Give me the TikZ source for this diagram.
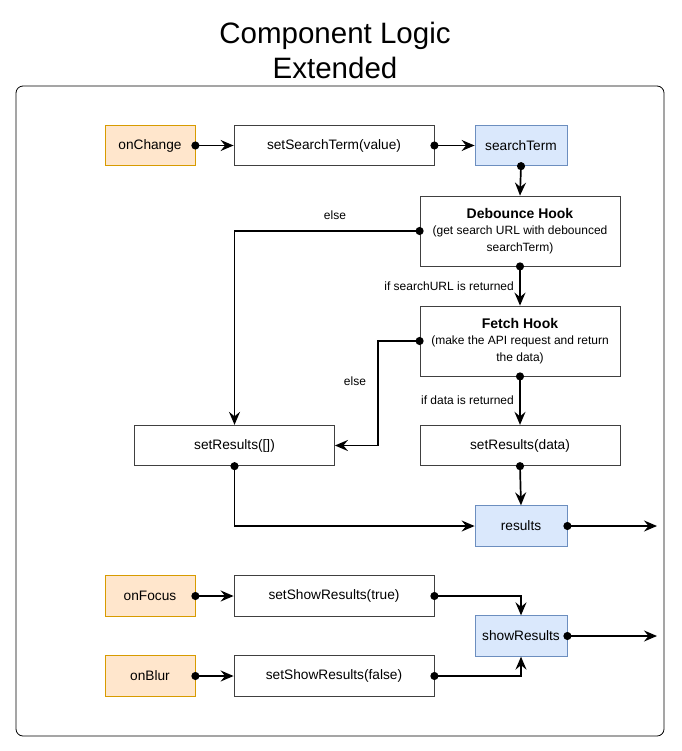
\documentclass[tikz,border=0pt]{standalone}
\usepackage{fontspec}
\setmainfont{Liberation Sans}
\usetikzlibrary{arrows.meta}
\definecolor{orfill}{HTML}{FFE6CC}
\definecolor{ordraw}{HTML}{D79B00}
\definecolor{blfill}{HTML}{DAE8FC}
\definecolor{bldraw}{HTML}{6C8EBF}
\begin{document}
\begin{tikzpicture}[x=1pt,y=-1pt,
  box/.style={draw=black!75, line width=0.8pt, fill=white, minimum width=200, minimum height=40.5, inner sep=0pt, font=\fontsize{13.7}{16}\selectfont, align=center},
  evt/.style={box, draw=ordraw, fill=orfill, minimum width=90},
  state/.style={box, draw=bldraw, fill=blfill, minimum width=92},
  hook/.style={box, minimum height=70, font=\fontsize{12}{16.5}\selectfont},
  lbl/.style={font=\fontsize{12}{14}\selectfont, inner sep=0pt},
  conn/.style={line width=1.7pt, shorten <=-4pt, {Circle[length=8pt]}-{Stealth[length=13pt,width=11pt,inset=4.5pt]}}
]
\useasboundingbox (0,0) rectangle (681,751);
% title
\node[font=\fontsize{29.5}{35}\selectfont, align=center] (title) at (335,50) {Component Logic\\Extended};
% container
\node[draw=black, line width=0.8pt, rounded corners=7pt, minimum width=648, minimum height=650, inner sep=0pt] (frame) at (340,411) {};
% nodes
\node[evt] (onchange) at (150,145.5) {onChange};
\node[box] (sst) at (334,145.5) {setSearchTerm(value)};
\node[state] (st) at (521,145.5) {searchTerm};
\node[hook] (deb) at (520,231) {{\fontsize{14}{16}\selectfont\bfseries Debounce Hook}\\(get search URL with debounced\\searchTerm)};
\node[hook] (fetch) at (520,341) {{\fontsize{14}{16}\selectfont\bfseries Fetch Hook}\\(make the API request and return\\the data)};
\node[box] (srempty) at (234.5,445.5) {setResults([])};
\node[box] (srdata) at (520,445.5) {setResults(data)};
\node[state] (res) at (521,526) {results};
\node[evt] (onfocus) at (150,596) {onFocus};
\node[box] (sstrue) at (334,596) {setShowResults(true)};
\node[state] (sr) at (521,636) {showResults};
\node[evt] (onblur) at (150,676) {onBlur};
\node[box] (ssfalse) at (334,676) {setShowResults(false)};
\coordinate (fk) at (378,341);
\coordinate (out1) at (657,526);
\coordinate (out2) at (657,636);
% connectors
\draw[conn] (onchange.east) -- (sst.west);
\draw[conn] (sst.east) -- (st.west);
\draw[conn] (st.south) -- (deb.north);
\draw[conn] (deb.west) -| (srempty.north);
\draw[conn] (deb.south) -- (fetch.north);
\draw[conn] (fetch.west) -- (fk) |- (srempty.east);
\draw[conn] (fetch.south) -- (srdata.north);
\draw[conn] (srdata.south) -- (res.north);
\draw[conn] (srempty.south) |- (res.west);
\draw[conn] (res.east) -- (out1);
\draw[conn] (onfocus.east) -- (sstrue.west);
\draw[conn] (onblur.east) -- (ssfalse.west);
\draw[conn] (sstrue.east) -| (sr.north);
\draw[conn] (ssfalse.east) -| (sr.south);
\draw[conn] (sr.east) -- (out2);
% labels
\node[lbl] (l1) at (335,215) {else};
\node[lbl, anchor=east] (l2) at (514,286) {if searchURL is returned};
\node[lbl] (l3) at (355,381) {else};
\node[lbl, anchor=east] (l4) at (514,400) {if data is returned};
\end{tikzpicture}
\end{document}
